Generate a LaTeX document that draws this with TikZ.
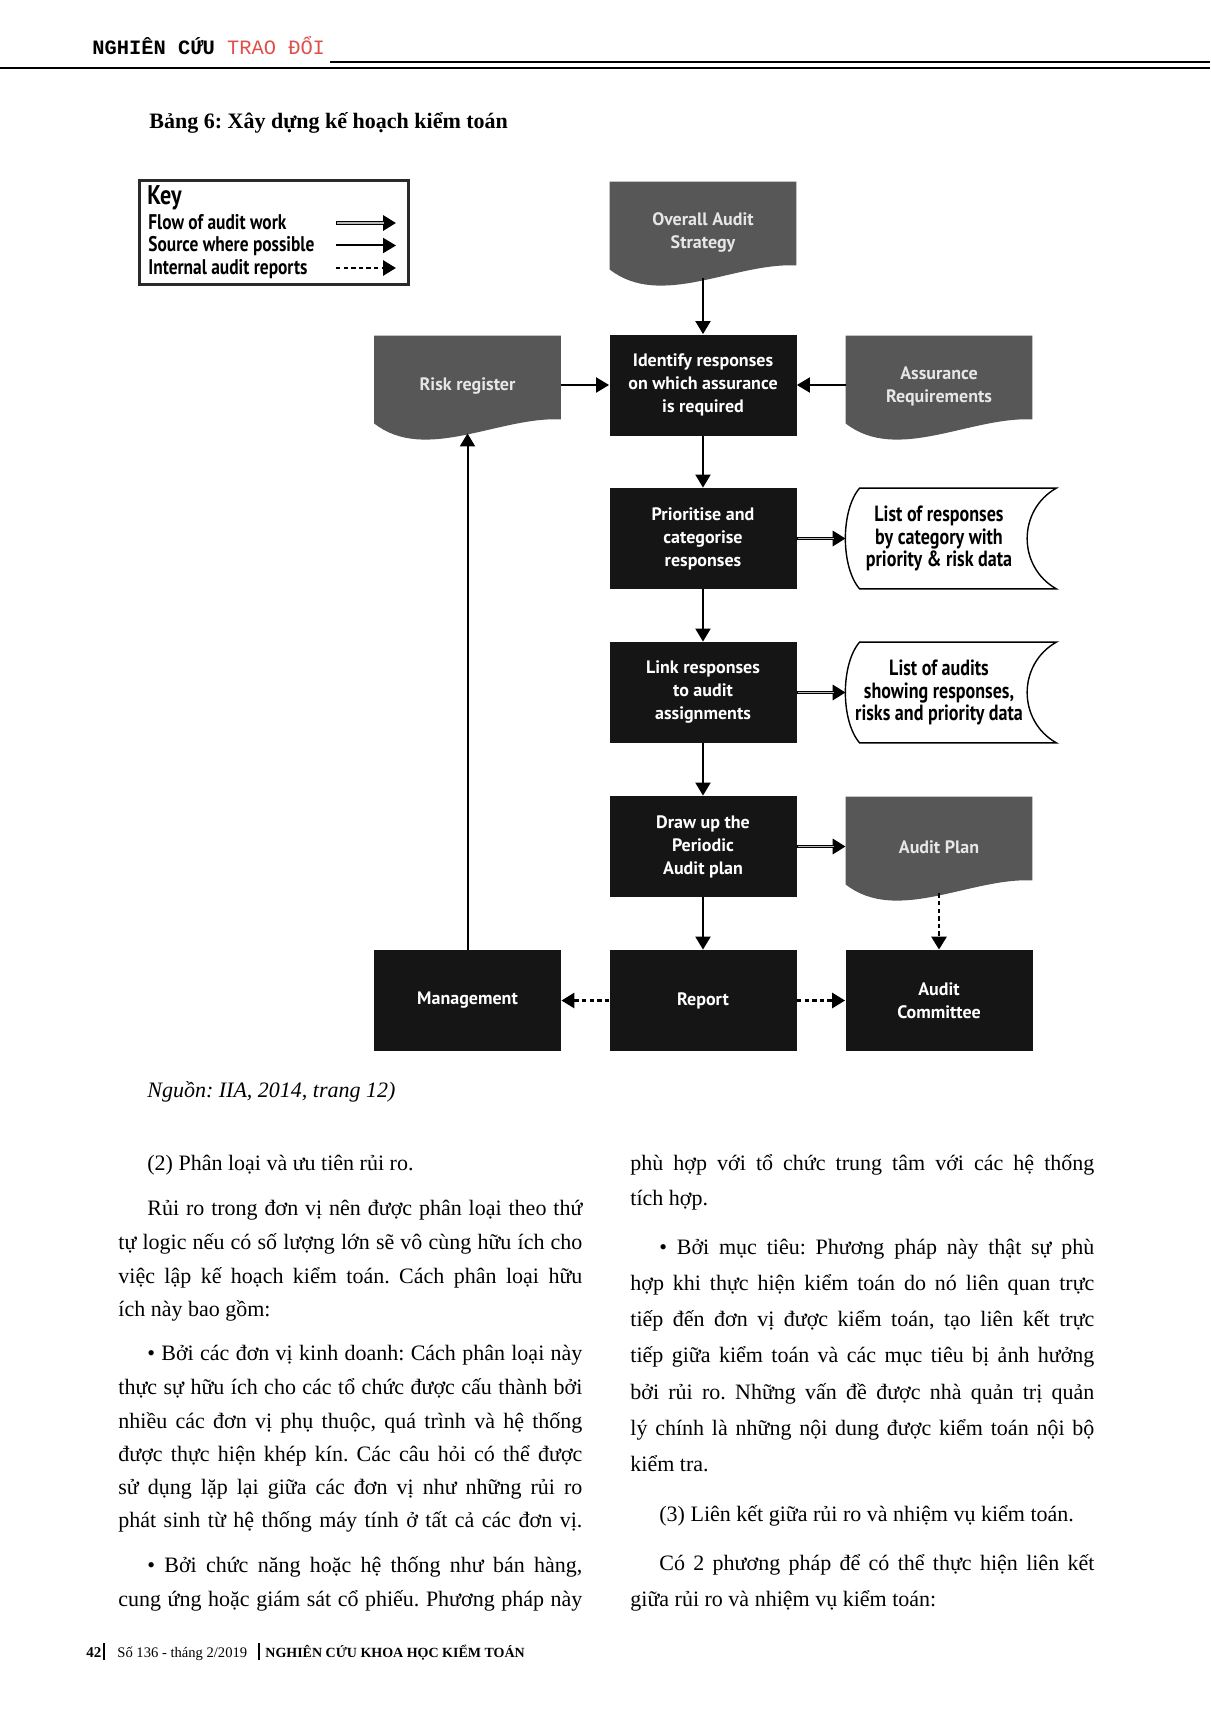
\documentclass[tikz,border=0pt]{standalone}
\usepackage{fontspec}
\setmainfont{Liberation Serif}
\newfontfamily\hdrfont{Liberation Mono}
\newfontfamily\dfont{PT Sans}
\newfontfamily\kfont[FakeStretch=0.82]{PT Sans}
\usetikzlibrary{arrows.meta,calc,backgrounds}
\frenchspacing

\definecolor{boxblack}{HTML}{151515}
\definecolor{docgray}{HTML}{575757}
\definecolor{doctext}{HTML}{E6E6E6}
\definecolor{keygray}{HTML}{2A2A2A}
\definecolor{hdrred}{HTML}{E0504A}

\newcommand\fl[1]{\hbox to 232pt{#1}}
\newcommand\il[1]{\hbox to 217.5pt{#1}}

\tikzset{
  proc/.style={fill=boxblack, text=white, minimum width=93.5pt, minimum height=50.5pt,
    align=center, font=\dfont\bfseries\fontsize{9}{11.5}\selectfont},
  doc/.style={minimum width=93pt, minimum height=50.5pt, text=doctext, align=center,
    font=\dfont\bfseries\fontsize{9}{11.5}\selectfont},
  store/.style={minimum width=93pt, minimum height=50pt, align=center,
    font=\kfont\bfseries\fontsize{11}{11.2}\selectfont},
  docshape/.style={insert path={(#1.north west) -- (#1.north east) -- ($(#1.south east)+(0,-18)$)
    .. controls +(-62,-3) and +(51,40) .. ($(#1.south west)+(0,-14)$) -- cycle}},
  storeshape/.style={insert path={($(#1.north west)+(14,0)$) -- ($(#1.north east)+(24,0)$)
    .. controls +(-39,22) and +(-39,-22) .. ($(#1.south east)+(24,0)$)
    -- ($(#1.south west)+(14,0)$)
    .. controls +(-19,-22) and +(-19,22) .. ($(#1.north west)+(14,0)$) -- cycle}},
  flow/.style={line width=1pt, -{Triangle[length=6.5pt,width=7.5pt]}},
  flowdbl/.style={line width=1.8pt, -{Triangle[length=6.5pt,width=7.5pt]},
    postaction={draw=gray!55, line width=0.6pt, -, shorten >=6pt, shorten <=0.6pt}},
  rep/.style={line width=1.4pt, dash pattern=on 2.2pt off 1.6pt,
    -{Triangle[length=6.5pt,width=7.5pt]}},
  keytxt/.style={anchor=base west, inner sep=0pt, font=\kfont\bfseries\fontsize{10.6}{12}\selectfont},
  body/.style={anchor=base west, inner sep=0pt, font=\fontsize{11}{13}\selectfont}
}

\begin{document}
\begin{tikzpicture}[x=0.5pt, y=-0.5pt]
\useasboundingbox (0,0) rectangle (1210,1712);

\node [anchor=base west, inner sep=0pt, font=\hdrfont\fontsize{10.2}{12}\selectfont] (hdr) at (92,55)
  {\textbf{NGHIÊN CỨU} \textcolor{hdrred}{TRAO ĐỔI}};
\draw [line width=1pt] (330,62) -- (1210,62);
\draw [line width=1pt] (0,68) -- (1210,68);

\node [anchor=base west, inner sep=0pt, font=\bfseries\fontsize{11}{13}\selectfont] (title) at (149,129)
  {Bảng 6: Xây dựng kế hoạch kiểm toán};

\node [draw=keygray, line width=1.5pt, minimum width=134.5pt, minimum height=51.5pt, inner sep=0pt]
  (keybox) at (273.5,232.5) {};
\node [keytxt, font=\kfont\bfseries\fontsize{13.5}{14}\selectfont] (keytitle) at (147,205) {Key};
\foreach \t/\s [count=\i] in {Flow of audit work/flowdbl, Source where possible/flow, Internal audit reports/rep} {
  \node [keytxt] (key\i) at (148,206.5+22.5*\i) {\t};
  \coordinate (ka\i) at (336,200.5+22.5*\i);
  \coordinate (kb\i) at (396,200.5+22.5*\i);
  \draw [\s] (ka\i) -- (kb\i);
}

\node [doc] (strat) at (703,232.5) {Overall Audit\\Strategy};
\node [doc] (riskreg) at (467.5,386.5) {Risk register};
\node [proc] (ident) at (703,385) {Identify responses\\on which assurance\\is required};
\node [doc] (assur) at (939,386.5) {Assurance\\Requirements};
\node [proc] (prio) at (703,538.5) {Prioritise and\\categorise\\responses};
\node [store] (resplist) at (939,538.5) {List of responses\\by category with\\priority \& risk data};
\node [proc] (link) at (703,692.5) {Link responses\\to audit\\assignments};
\node [store] (auditlist) at (939,692.5) {List of audits\\showing responses,\\risks and priority data};
\node [proc] (drawplan) at (703,846.5) {Draw up the\\Periodic\\Audit plan};
\node [doc] (auditplan) at (939,847.5) {Audit Plan};
\node [proc] (mgmt) at (467.5,1000.5) {Management};
\node [proc] (report) at (703,1000.5) {Report};
\node [proc] (committee) at (939,1000.5) {Audit\\Committee};

\begin{scope}[on background layer]
\fill [white] (0,0) rectangle (1210,1712);
\fill [docgray] [docshape=strat];
\fill [docgray] [docshape=riskreg];
\fill [docgray] [docshape=assur];
\fill [docgray] [docshape=auditplan];
\end{scope}
\draw [line width=0.7pt] [storeshape=resplist];
\draw [line width=0.7pt] [storeshape=auditlist];

\coordinate (stratb) at ($(strat.south)+(0,-5)$);
\coordinate (riskb) at ($(riskreg.south)+(0,-4)$);
\coordinate (planb) at ($(auditplan.south)+(0,-5)$);

\draw [flow] (stratb) -- (ident);
\draw [flow] (riskreg.east |- ident) -- (ident.west);
\draw [flow] (assur.west |- ident) -- (ident.east);
\draw [flow] (ident) -- (prio);
\draw [flowdbl] (prio) -- (resplist);
\draw [flow] (prio) -- (link);
\draw [flowdbl] (link) -- (auditlist);
\draw [flow] (link) -- (drawplan);
\draw [flowdbl] (drawplan) -- (drawplan -| auditplan.west);
\draw [flow] (drawplan) -- (report);
\draw [rep] (planb) -- (committee);
\draw [rep] (report) -- (mgmt);
\draw [rep] (report) -- (committee);
\draw [flow] (mgmt) -- (riskb);

\node [anchor=base west, inner sep=0pt, font=\itshape\fontsize{11}{13}\selectfont] (src) at (147,1097)
  {Nguồn: IIA, 2014, trang 12)};

\node [body] (l1) at (147,1170) {(2) Phân loại và ưu tiên rủi ro.};
\node [body] (l2) at (147,1215) {\il{Rủi ro trong đơn vị nên được phân loại theo thứ}};
\node [body] (l3) at (118,1249) {\fl{tự logic nếu có số lượng lớn sẽ vô cùng hữu ích cho}};
\node [body] (l4) at (118,1283) {\fl{việc lập kế hoạch kiểm toán. Cách phân loại hữu}};
\node [body] (l5) at (118,1316) {ích này bao gồm:};
\node [body] (l6) at (147,1360) {\il{• Bởi các đơn vị kinh doanh: Cách phân loại này}};
\node [body] (l7) at (118,1394) {\fl{thực sự hữu ích cho các tổ chức được cấu thành bởi}};
\node [body] (l8) at (118,1428) {\fl{nhiều các đơn vị phụ thuộc, quá trình và hệ thống}};
\node [body] (l9) at (118,1461) {\fl{được thực hiện khép kín. Các câu hỏi có thể được}};
\node [body] (l10) at (118,1494) {\fl{sử dụng lặp lại giữa các đơn vị như những rủi ro}};
\node [body] (l11) at (118,1527) {\fl{phát sinh từ hệ thống máy tính ở tất cả các đơn vị.}};
\node [body] (l12) at (147,1572) {\il{• Bởi chức năng hoặc hệ thống như bán hàng,}};
\node [body] (l13) at (118,1606) {\fl{cung ứng hoặc giám sát cổ phiếu. Phương pháp này}};

\node [body] (r1) at (630,1170) {\fl{phù hợp với tổ chức trung tâm với các hệ thống}};
\node [body] (r2) at (630,1205) {tích hợp.};
\node [body] (r3) at (659,1254) {\il{• Bởi mục tiêu: Phương pháp này thật sự phù}};
\node [body] (r4) at (630,1290) {\fl{hợp khi thực hiện kiểm toán do nó liên quan trực}};
\node [body] (r5) at (630,1326) {\fl{tiếp đến đơn vị được kiểm toán, tạo liên kết trực}};
\node [body] (r6) at (630,1362) {\fl{tiếp giữa kiểm toán và các mục tiêu bị ảnh hưởng}};
\node [body] (r7) at (630,1399) {\fl{bởi rủi ro. Những vấn đề được nhà quản trị quản}};
\node [body] (r8) at (630,1435) {\fl{lý chính là những nội dung được kiểm toán nội bộ}};
\node [body] (r9) at (630,1471) {kiểm tra.};
\node [body] (r10) at (659,1521) {(3) Liên kết giữa rủi ro và nhiệm vụ kiểm toán.};
\node [body] (r11) at (659,1570) {\il{Có 2 phương pháp để có thể thực hiện liên kết}};
\node [body] (r12) at (630,1606) {giữa rủi ro và nhiệm vụ kiểm toán:};

\node [anchor=base west, inner sep=0pt, font=\bfseries\fontsize{7.5}{9}\selectfont] (pgno) at (86,1657) {42};
\draw [line width=1.2pt] (104,1643) -- (104,1660);
\node [anchor=base west, inner sep=0pt, font=\fontsize{7.3}{9}\selectfont] (issue) at (117,1657) {Số 136 - tháng 2/2019};
\draw [line width=1.2pt] (259,1643) -- (259,1660);
\node [anchor=base west, inner sep=0pt, font=\bfseries\fontsize{7}{9}\selectfont] (journal) at (265,1657)
  {NGHIÊN CỨU KHOA HỌC KIỂM TOÁN};
\end{tikzpicture}
\end{document}
